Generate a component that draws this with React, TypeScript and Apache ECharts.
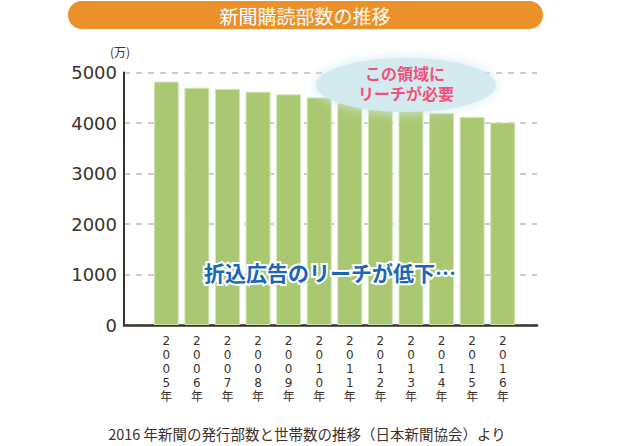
import React, { useEffect, useRef } from 'react';
import * as echarts from 'echarts';

const years = ['2005', '2006', '2007', '2008', '2009', '2010', '2011', '2012', '2013', '2014', '2015', '2016'];
const copies = [4820, 4700, 4675, 4620, 4567, 4507, 4400, 4355, 4305, 4200, 4120, 4010];
const yTicks = [0, 1000, 2000, 3000, 4000, 5000];

const title = '新聞購読部数の推移';
const unitLabel = '(万)';
const bubbleLines = ['この領域に', 'リーチが必要'];
const noteText = '折込広告のリーチが低下…';
const sourceText = '2016 年新聞の発行部数と世帯数の推移（日本新聞協会）より';

const jp = '"Noto Sans CJK JP", "Noto Sans", sans-serif';
const mixed = '"DejaVu Sans", "Noto Sans CJK JP", sans-serif';
const ink = '#3b3129';

export default function App() {
  const chartRef = useRef<HTMLDivElement>(null);

  useEffect(() => {
    if (!chartRef.current) return;
    const chart = echarts.init(chartRef.current, null, { renderer: 'svg' });

    const yMax = yTicks[yTicks.length - 1];
    const option: echarts.EChartsOption = {
      animation: false,
      grid: [
        { left: 124, right: 83, top: 72.5, bottom: 121 },
        { left: 151, right: 102, top: 72.5, bottom: 121 }
      ],
      xAxis: [
        {
          gridIndex: 0,
          type: 'value',
          min: 0,
          max: 1,
          axisLine: { show: true, onZero: false, lineStyle: { color: ink, width: 2.5 } },
          axisTick: { show: false },
          axisLabel: { show: false },
          splitLine: { show: false }
        },
        {
          gridIndex: 1,
          type: 'category',
          data: years.map((y) => y.split('').join('\n') + '\n年'),
          axisLine: { show: false },
          axisTick: { show: false },
          axisLabel: {
            interval: 0,
            margin: 9,
            fontSize: 12,
            lineHeight: 14,
            color: ink,
            fontFamily: mixed,
            verticalAlign: 'top'
          }
        }
      ],
      yAxis: [
        {
          gridIndex: 0,
          type: 'value',
          min: 0,
          max: yMax,
          interval: 1000,
          axisLine: { show: true, lineStyle: { color: ink, width: 2 } },
          axisTick: { show: false },
          axisLabel: {
            margin: 7,
            fontSize: 18,
            color: ink,
            fontFamily: '"DejaVu Sans", sans-serif',
            formatter: (v: number) => String(v)
          },
          splitLine: { show: true, lineStyle: { color: '#bdbdbd', type: [6, 6], width: 1.5 } }
        },
        {
          gridIndex: 1,
          type: 'value',
          min: 0,
          max: yMax,
          show: false
        }
      ],
      series: [
        {
          type: 'bar',
          xAxisIndex: 1,
          yAxisIndex: 1,
          data: copies,
          barWidth: 25,
          itemStyle: { color: '#aac872', borderColor: '#d3e5b6', borderWidth: 1 },
          z: 3
        }
      ],
      graphic: [
        {
          type: 'rect',
          shape: { x: 68, y: 1, width: 475, height: 28, r: 14 },
          style: { fill: '#ec9029' }
        },
        {
          type: 'text',
          x: 305,
          y: 15,
          style: {
            text: title,
            fill: '#fff',
            fontSize: 19,
            fontFamily: jp,
            align: 'center',
            verticalAlign: 'middle'
          }
        },
        {
          type: 'text',
          x: 120,
          y: 51,
          style: { text: unitLabel, fill: ink, fontSize: 12, fontFamily: jp, align: 'center', verticalAlign: 'middle' }
        },
        {
          type: 'ellipse',
          z: 10,
          shape: { cx: 406, cy: 85, rx: 90, ry: 27 },
          style: { fill: '#d3eaee', shadowBlur: 12, shadowColor: '#d3eaee' }
        },
        {
          type: 'text',
          z: 11,
          x: 405,
          y: 74,
          style: {
            text: bubbleLines[0],
            fill: '#f0527c',
            fontSize: 16,
            fontWeight: 'bold',
            fontFamily: mixed,
            align: 'center',
            verticalAlign: 'middle'
          }
        },
        {
          type: 'text',
          z: 11,
          x: 406,
          y: 94,
          style: {
            text: bubbleLines[1],
            fill: '#f0527c',
            fontSize: 16,
            fontWeight: 'bold',
            fontFamily: mixed,
            align: 'center',
            verticalAlign: 'middle'
          }
        },
        {
          type: 'text',
          z: 11,
          x: 330,
          y: 272,
          style: {
            text: noteText,
            fill: '#1a66b8',
            stroke: '#fff',
            lineWidth: 4,
            fontSize: 21,
            fontWeight: 'bold',
            fontFamily: jp,
            align: 'center',
            verticalAlign: 'middle'
          }
        },
        {
          type: 'text',
          x: 307,
          y: 433,
          style: {
            text: sourceText,
            fill: ink,
            fontSize: 14.5,
            fontFamily: jp,
            align: 'center',
            verticalAlign: 'middle'
          }
        }
      ]
    };

    chart.setOption(option);
    return () => {
      chart.dispose();
    };
  }, []);

  return (
    <div
      ref={chartRef}
      style={{ position: 'fixed', left: 0, top: 0, width: 620, height: 446, background: '#fff' }}
    />
  );
}
